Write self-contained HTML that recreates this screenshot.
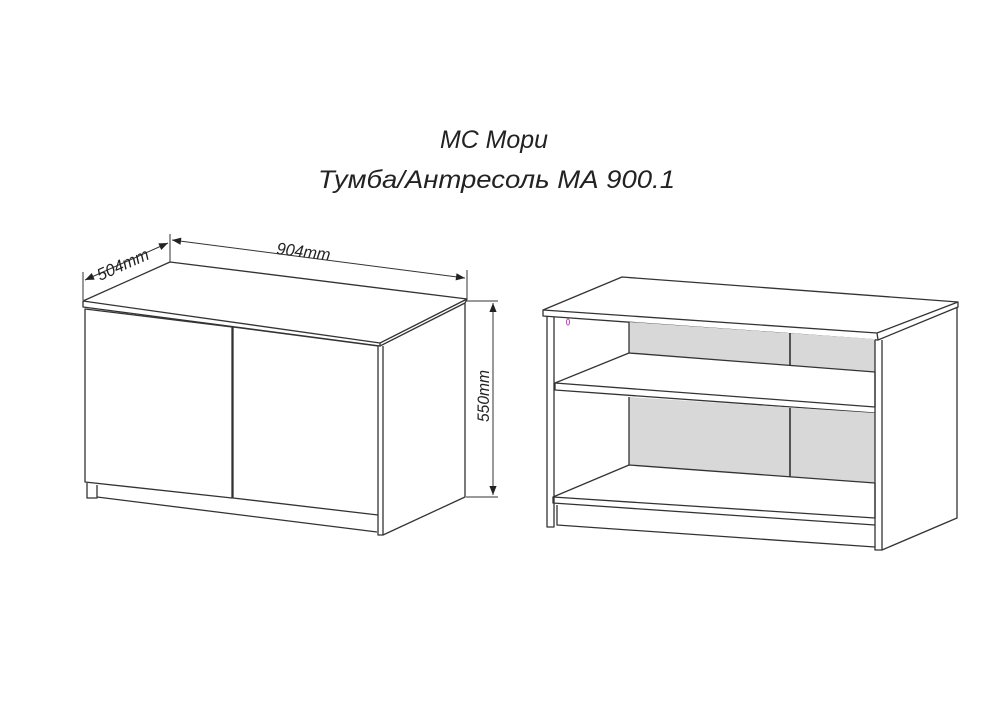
<!DOCTYPE html>
<html><head><meta charset="utf-8"><style>html,body{margin:0;padding:0;background:#fff}svg{display:block}</style></head>
<body>
<svg width="1000" height="707" viewBox="0 0 1000 707" xmlns="http://www.w3.org/2000/svg">
<defs>
<marker id="ar" viewBox="0 0 10 10" refX="10" refY="5" markerWidth="11" markerHeight="9" orient="auto-start-reverse" markerUnits="userSpaceOnUse"><path d="M0,1 L10,5 L0,9 Z" fill="#222"/></marker>
</defs>
<g font-family="'Liberation Sans','DejaVu Sans',sans-serif" font-style="italic" fill="#222" font-size="25">
<text x="440" y="148" textLength="108" lengthAdjust="spacingAndGlyphs">МС Мори</text>
<text x="318" y="188" textLength="357" lengthAdjust="spacingAndGlyphs">Тумба/Антресоль МА 900.1</text>
</g>
<g fill="none" stroke="#333" stroke-width="1.3" stroke-linejoin="round">
<polygon points="170,262 467,299 380,343 83,301" fill="#fff"/>
<polyline points="83,301 83,307 380,346 380,343"/>
<polyline points="380,346 465,303 467,299"/>
<polygon points="85,309 232,327 232,498 85,482" fill="#fff"/>
<polygon points="233,327 378,346 378,515 233,498" fill="#fff"/>
<polyline points="87,483 87,498 97,498 97,485"/>
<polyline points="97,497 377,532"/>
<polyline points="378,515 378,535 383,535 383,346"/>
<polyline points="383,535 465,497 465,303"/>
<line x1="83" y1="300" x2="83" y2="272" stroke-width="1"/>
<line x1="170" y1="262" x2="170" y2="234" stroke-width="1"/>
<line x1="467" y1="299" x2="467" y2="270" stroke-width="1"/>
<line x1="85" y1="280" x2="168" y2="243" stroke-width="1" marker-start="url(#ar)" marker-end="url(#ar)"/>
<line x1="172" y1="240" x2="465" y2="278" stroke-width="1" marker-start="url(#ar)" marker-end="url(#ar)"/>
<line x1="466" y1="301" x2="498" y2="301" stroke-width="1"/>
<line x1="466" y1="497" x2="498" y2="497" stroke-width="1"/>
<line x1="493" y1="303" x2="493" y2="495" stroke-width="1" marker-start="url(#ar)" marker-end="url(#ar)"/>
<polygon points="622,277 958,302 877,333 543,310" fill="#fff"/>
<polyline points="543,310 543,316 878,340 877,333"/>
<polyline points="878,340 958,307 958,302"/>
<polyline points="547,316 547,527 554,527 554,317"/>
<polygon points="629,322 875,339 875,372 629,353" fill="#d8d8d8" stroke="none"/>
<polyline points="629,322 629,353"/>
<line x1="790" y1="333" x2="790" y2="365" stroke-width="1.6"/>
<polygon points="629,353 875,372 875,407 555,383" fill="#fff"/>
<polyline points="555,383 555,390 875,413"/>
<polygon points="629,397 875,413 875,483 629,465" fill="#d8d8d8" stroke="none"/>
<polyline points="629,397 629,465"/>
<line x1="790" y1="408" x2="790" y2="478" stroke-width="1.6"/>
<polygon points="629,465 875,483 875,518 553,497" fill="#fff"/>
<polyline points="553,497 553,503 875,525"/>
<polyline points="557,505 557,525 875,547"/>
<polyline points="875,340 875,550 882,550 882,340"/>
<polyline points="882,550 957,518 957,307"/>
</g>
<g font-family="'Liberation Sans','DejaVu Sans',sans-serif" font-style="italic" fill="#222" font-size="17">
<text transform="translate(100,281) rotate(-24)" textLength="55" lengthAdjust="spacingAndGlyphs">504mm</text>
<text transform="translate(276,254) rotate(7)" textLength="54" lengthAdjust="spacingAndGlyphs">904mm</text>
<text transform="translate(489,422) rotate(-90)" textLength="52" lengthAdjust="spacingAndGlyphs">550mm</text>
</g>
<ellipse cx="568" cy="322" rx="1.5" ry="3" fill="none" stroke="#c040c0" stroke-width="1"/>
</svg>
</body></html>
